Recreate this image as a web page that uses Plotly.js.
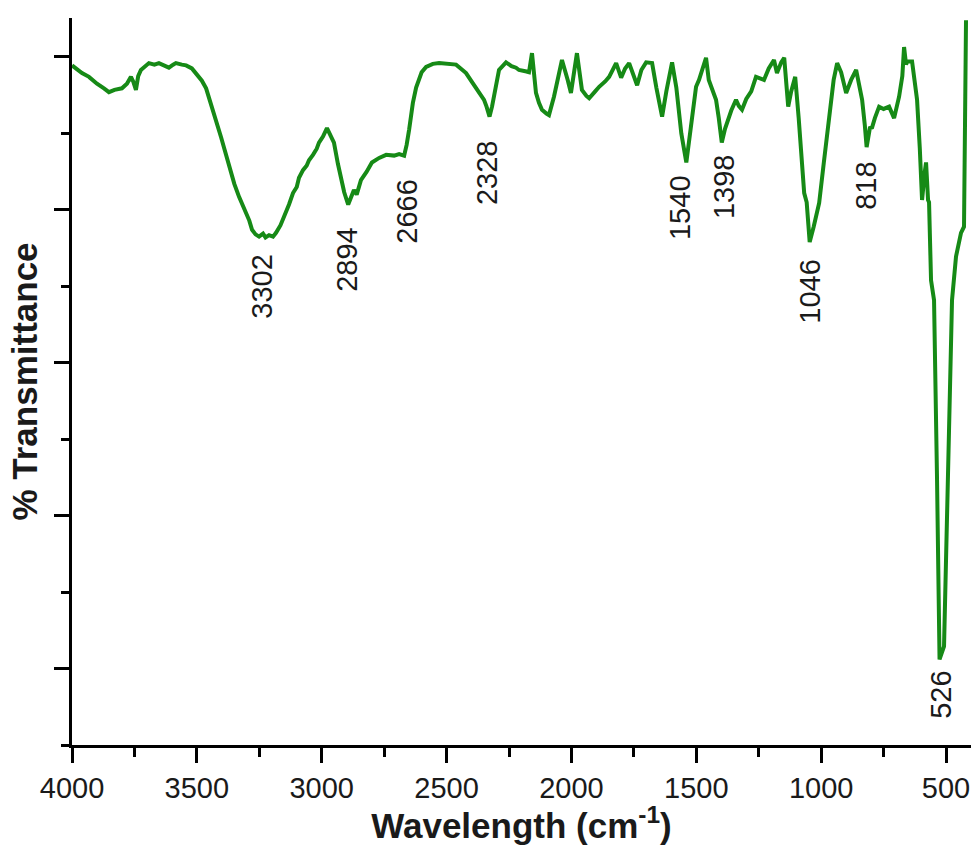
<!DOCTYPE html>
<html>
<head>
<meta charset="utf-8">
<script src="https://cdn.plot.ly/plotly-3.0.1.min.js"></script>
<style>
  html, body { margin: 0; padding: 0; background: #fff; }
  #chart { width: 971px; height: 845px; }
</style>
</head>
<body>
<div id="chart"></div>
<script>
// FTIR spectrum: wavenumber (cm^-1) vs. % transmittance (arbitrary scale)
const wavenumber = [
  4000, 3960, 3932, 3900, 3872, 3852, 3830, 3800, 3780, 3764, 3755, 3744, 3735, 3724,
  3692, 3670, 3652, 3630, 3612, 3595, 3584, 3560, 3543, 3520, 3503, 3480, 3463, 3450,
  3439, 3420, 3403, 3390, 3371, 3350, 3331, 3315, 3302, 3290, 3279, 3265, 3251, 3235,
  3225, 3211, 3195, 3183, 3165, 3143, 3131, 3115, 3100, 3091, 3075, 3060, 3051, 3035,
  3020, 3011, 2995, 2979, 2965, 2951, 2935, 2923, 2910, 2894, 2885, 2871, 2860, 2843,
  2820, 2799, 2770, 2742, 2710, 2690, 2670, 2660, 2650, 2635, 2622, 2600, 2582, 2555,
  2530, 2500, 2462, 2440, 2422, 2400, 2382, 2360, 2350, 2340, 2328, 2318, 2310, 2290,
  2262, 2240, 2222, 2210, 2180, 2170, 2158, 2142, 2130, 2118, 2100, 2090, 2070, 2038,
  2015, 2002, 1978, 1958, 1940, 1929, 1905, 1889, 1865, 1849, 1821, 1801, 1785, 1769,
  1737, 1720, 1701, 1677, 1660, 1637, 1620, 1597, 1580, 1560, 1540, 1525, 1510, 1501,
  1489, 1475, 1461, 1450, 1437, 1421, 1410, 1398, 1385, 1377, 1360, 1341, 1330, 1317,
  1300, 1280, 1261, 1245, 1229, 1210, 1189, 1177, 1160, 1148, 1132, 1120, 1104, 1090,
  1075, 1068, 1058, 1046, 1030, 1008, 990, 968, 950, 936, 920, 900, 880, 860,
  848, 836, 825, 818, 805, 796, 785, 768, 750, 728, 708, 688, 675, 668,
  660, 656, 636, 616, 605, 600, 596, 585, 580, 572, 568, 560, 548, 536,
  526, 508, 488, 476, 460, 440, 428, 420
];
const transmittance = [
  98.9, 97.9, 97.4, 96.5, 95.9, 95.4, 95.7, 95.9, 96.5, 97.4, 96.8, 95.7, 97.5, 98.3,
  99.2, 99.0, 99.2, 98.8, 98.6, 99.0, 99.2, 99.0, 98.9, 98.5, 97.9, 96.9, 95.9, 94.6,
  93.1, 91.3, 89.5, 88.0, 85.6, 83.4, 81.7, 80.6, 79.7, 78.6, 77.4, 76.8, 76.5, 76.9,
  76.4, 76.7, 76.5, 77.0, 78.0, 79.6, 80.7, 82.2, 83.0, 84.2, 85.2, 85.8, 86.5, 87.2,
  88.0, 88.8, 89.6, 90.7, 89.8, 88.8, 86.0, 84.3, 82.3, 80.7, 81.5, 82.6, 82.0, 83.9,
  85.0, 86.2, 86.8, 87.2, 87.1, 87.3, 87.1, 88.5, 90.5, 94.0, 96.0, 98.0, 98.7, 99.1,
  99.2, 99.1, 99.0, 98.4, 97.9, 96.8, 95.9, 95.0, 94.4, 93.5, 92.2, 93.5, 94.8, 98.3,
  99.3, 98.8, 98.6, 98.3, 98.1, 98.0, 100.5, 95.3, 94.0, 93.1, 92.6, 92.4, 94.8, 99.6,
  97.0, 95.3, 100.5, 95.7, 94.9, 94.6, 95.5, 96.1, 96.8, 97.4, 99.2, 97.3, 98.5, 99.2,
  96.3, 98.3, 99.3, 99.2, 96.0, 92.2, 95.5, 99.3, 96.0, 90.0, 86.2, 90.0, 94.5, 96.1,
  97.0, 98.5, 99.9, 97.0, 95.7, 94.4, 92.0, 88.8, 90.6, 91.4, 93.0, 94.4, 93.6, 93.1,
  94.5, 95.5, 97.4, 97.2, 97.0, 98.5, 99.6, 97.9, 99.3, 99.9, 93.5, 95.5, 97.4, 92.0,
  85.5, 82.2, 81.0, 75.8, 77.8, 80.9, 86.0, 92.2, 97.0, 99.2, 98.0, 95.3, 97.0, 98.3,
  96.0, 94.4, 91.0, 88.2, 90.7, 90.8, 92.0, 93.5, 93.2, 93.5, 92.0, 94.8, 97.5, 101.3,
  99.0, 99.4, 99.4, 94.4, 88.0, 83.0, 81.3, 85.0, 86.2, 81.3, 81.0, 70.8, 68.2, 44.7,
  21.2, 22.9, 49.0, 68.2, 73.9, 77.0, 77.8, 104.8
];

// Band assignments written beside the spectrum
const peakLabels = ["3302", "2894", "2666", "2328", "1540", "1398", "1046", "818", "526"];
const peakWavenumbers = [3302, 2894, 2666, 2328, 1540, 1398, 1046, 818, 526];
// vertical position (top of each rotated label) in transmittance units
const labelTops = [74.5, 78.0, 84.3, 89.4, 84.8, 87.6, 73.9, 86.5, 19.9];
// horizontal nudges in pixels so labels sit clear of the trace
const labelShifts = [16, -2, 1, -3, -7, 2, 0, 0, 2];

const textColor = "#1a1a1a";
const lineGreen = "#168a16";
const fontFamily = "Liberation Sans, Arial, sans-serif";

const annotations = peakLabels.map((t, i) => ({
  x: peakWavenumbers[i],
  y: labelTops[i],
  xref: "x", yref: "y",
  text: t,
  textangle: -90,
  showarrow: false,
  xanchor: "center",
  yanchor: "top",
  xshift: labelShifts[i],
  font: { family: fontFamily, size: 29, color: textColor }
}));

const trace = {
  x: wavenumber,
  y: transmittance,
  type: "scatter",
  mode: "lines",
  line: { color: lineGreen, width: 4 },
  hoverinfo: "x+y"
};

const layout = {
  width: 971,
  height: 845,
  margin: { l: 72, r: 0, t: 18, b: 100 },
  paper_bgcolor: "#ffffff",
  plot_bgcolor: "#ffffff",
  showlegend: false,
  xaxis: {
    range: [4000, 400],
    tickmode: "linear",
    tick0: 500,
    dtick: 500,
    ticks: "outside",
    ticklen: 15,
    tickwidth: 3,
    tickcolor: "#000",
    minor: { dtick: 250, tick0: 250, ticks: "outside", ticklen: 9, tickwidth: 3, tickcolor: "#000", showgrid: false },
    showline: true,
    linecolor: "#000",
    linewidth: 3,
    showgrid: false,
    zeroline: false,
    tickfont: { family: fontFamily, size: 29, color: textColor },
    title: {
      text: "<b>Wavelength (cm<sup>-1</sup>)</b>",
      font: { family: fontFamily, size: 35, color: textColor },
      standoff: 1
    }
  },
  yaxis: {
    range: [10, 105.1],
    tickmode: "linear",
    tick0: 20,
    dtick: 20,
    ticks: "outside",
    ticklen: 15,
    tickwidth: 3,
    tickcolor: "#000",
    minor: { dtick: 10, tick0: 10, ticks: "outside", ticklen: 8, tickwidth: 3, tickcolor: "#000", showgrid: false },
    showticklabels: false,
    showline: true,
    linecolor: "#000",
    linewidth: 3,
    showgrid: false,
    zeroline: false,
    title: {
      text: "<b>% Transmittance</b>",
      font: { family: fontFamily, size: 35, color: textColor },
      standoff: 6
    }
  },
  annotations: annotations
};

Plotly.newPlot("chart", [trace], layout, { displayModeBar: false, staticPlot: true });
</script>
</body>
</html>
